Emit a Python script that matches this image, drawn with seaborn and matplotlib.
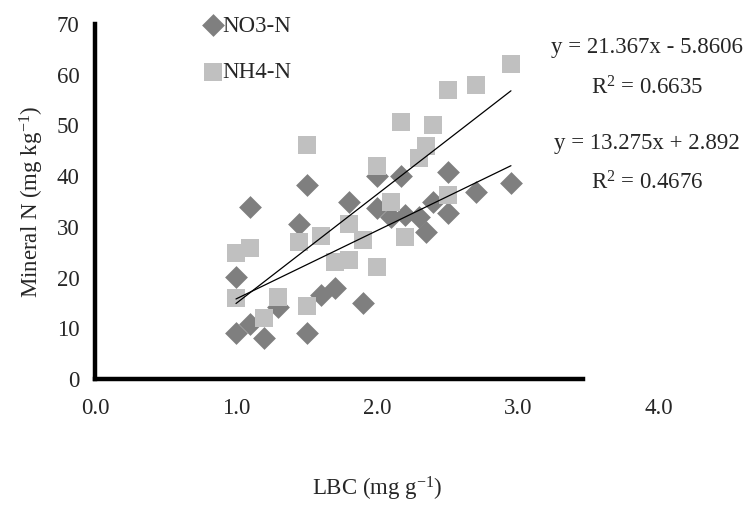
import numpy as np
import pandas as pd
import matplotlib
matplotlib.use("Agg")
import matplotlib.pyplot as plt
import seaborn as sns

# ---- data ----
no3_x = [1.0, 1.0, 1.1, 1.1, 1.2, 1.3, 1.45, 1.5, 1.5, 1.6, 1.7, 1.8, 1.9,
         2.0, 2.0, 2.1, 2.17, 2.2, 2.3, 2.35, 2.4, 2.5, 2.5, 2.7, 2.95]
no3_y = [20.2, 9.0, 10.8, 34.0, 8.0, 14.2, 30.6, 38.2, 9.0, 16.6, 17.9, 35.0, 14.9,
         40.0, 33.8, 32.0, 40.1, 32.3, 32.0, 29.0, 35.0, 40.9, 32.8, 36.9, 38.6]
nh4_x = [1.0, 1.1, 1.0, 1.2, 1.3, 1.45, 1.5, 1.5, 1.6, 1.7, 1.8, 1.8, 1.9,
         2.0, 2.0, 2.1, 2.17, 2.2, 2.3, 2.35, 2.4, 2.5, 2.5, 2.7, 2.95]
nh4_y = [24.8, 25.8, 15.9, 12.0, 16.2, 27.1, 46.2, 14.3, 28.1, 23.1, 23.5, 30.6, 27.5,
         22.1, 42.0, 35.0, 50.7, 28.0, 43.5, 46.0, 50.0, 36.3, 57.0, 57.9, 62.1]
series_names = ["NO3-N", "NH4-N"]
eq_labels = ["y = 21.367x - 5.8606", "R$^{\\mathregular{2}}$ = 0.6635",
             "y = 13.275x + 2.892", "R$^{\\mathregular{2}}$ = 0.4676"]
x_ticks = [0.0, 1.0, 2.0, 3.0, 4.0]
y_ticks = [0, 10, 20, 30, 40, 50, 60, 70]

sns.set_style("white")
plt.rcParams["font.family"] = ["Liberation Serif", "DejaVu Serif"]
plt.rcParams["mathtext.fontset"] = "custom"
plt.rcParams["mathtext.rm"] = "Liberation Serif"
plt.rcParams["mathtext.it"] = "Liberation Serif:italic"

FS = 16.5
fig = plt.figure(figsize=(7.53, 5.16), dpi=100)
ax = fig.add_axes([95 / 753, 1 - 379 / 516, 564 / 753, 355 / 516])

df_no3 = pd.DataFrame({"x": no3_x, "y": no3_y, "s": series_names[0]})
df_nh4 = pd.DataFrame({"x": nh4_x, "y": nh4_y, "s": series_names[1]})

sns.scatterplot(data=df_no3, x="x", y="y", marker="D", s=135, color="#7f7f7f",
                linewidth=0, ax=ax, label=series_names[0], zorder=2)
sns.scatterplot(data=df_nh4, x="x", y="y", marker="s", s=159, color="#c0c0c0",
                linewidth=0, ax=ax, label=series_names[1], zorder=3)
sns.regplot(data=df_nh4, x="x", y="y", scatter=False, ci=None, truncate=True,
            color="black", line_kws={"lw": 0.9, "zorder": 4}, ax=ax)
sns.regplot(data=df_no3, x="x", y="y", scatter=False, ci=None, truncate=True,
            color="black", line_kws={"lw": 0.9, "zorder": 4}, ax=ax)

ax.set_xlim(0, 4)
ax.set_ylim(0, 70)
ax.set_xticks(x_ticks)
ax.set_xticklabels([f"{v:.1f}" for v in x_ticks], fontsize=FS)
ax.set_yticks(y_ticks)
ax.set_yticklabels([str(v) for v in y_ticks], fontsize=FS)
ax.tick_params(axis="x", which="major", length=0, pad=14)
ax.tick_params(axis="y", which="major", length=7, width=3, direction="out", pad=4)
# bottom axis line drawn shorter with its own evenly spaced marks
ax.spines["bottom"].set_bounds(0, 3.46)
ax.set_xticks(np.linspace(0, 3.46, 5), minor=True)
ax.tick_params(axis="x", which="minor", length=7, width=3, direction="out")
for sp in ["top", "right"]:
    ax.spines[sp].set_visible(False)
for sp in ["left", "bottom"]:
    ax.spines[sp].set_linewidth(3.2)
    ax.spines[sp].set_color("black")

ax.set_xlabel("LBC (mg g$^{\\mathregular{-1}}$)", fontsize=FS, labelpad=40)
ax.set_ylabel("Mineral N (mg kg$^{\\mathregular{-1}}$)", fontsize=FS, labelpad=8)

leg = ax.legend(loc="upper left", bbox_to_anchor=(188 / 753, 1 - 4 / 516),
                bbox_transform=fig.transFigure, frameon=False, fontsize=FS,
                handletextpad=-0.2, labelspacing=1.1, borderpad=0,
                handlelength=1.2, markerscale=1.0)

fig.text(647 / 753, 1 - 48 / 516, eq_labels[0], ha="center", va="center", fontsize=FS)
fig.text(647 / 753, 1 - 88 / 516, eq_labels[1], ha="center", va="center", fontsize=FS)
fig.text(647 / 753, 1 - 143 / 516, eq_labels[2], ha="center", va="center", fontsize=FS)
fig.text(647 / 753, 1 - 183 / 516, eq_labels[3], ha="center", va="center", fontsize=FS)

fig.savefig("out.png", dpi=100)
